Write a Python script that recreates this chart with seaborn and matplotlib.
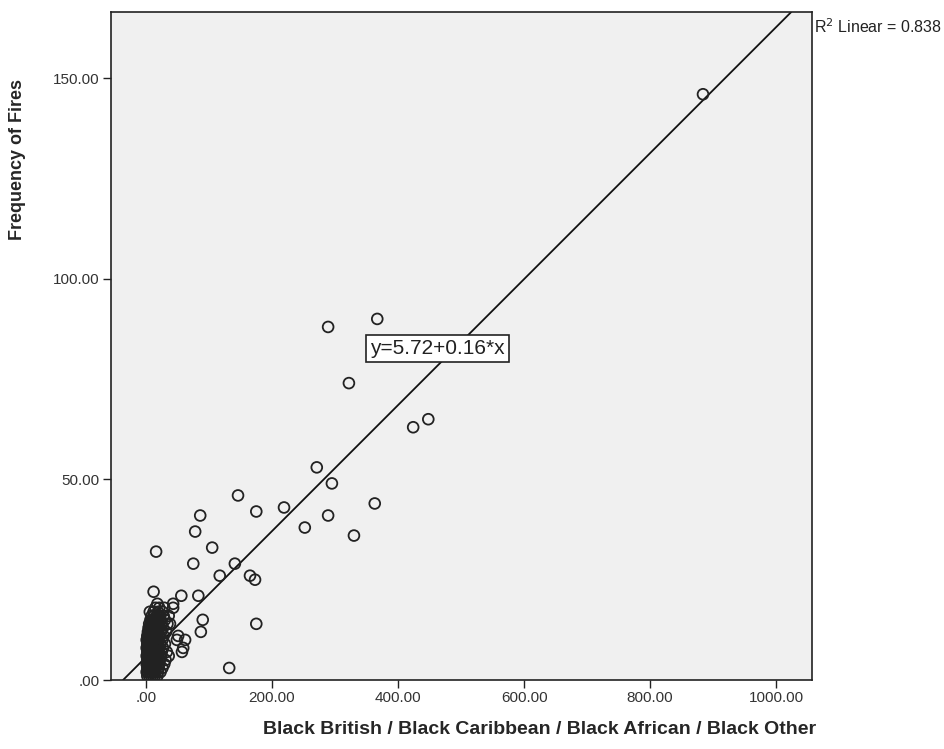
import seaborn as sns
import matplotlib.pyplot as plt
import numpy as np

# outlying wards
outer_x = [884, 367, 289, 322, 448, 424, 271, 295, 146, 175, 219, 363, 86, 78,
           252, 289, 330, 16, 105, 75, 141, 117, 165, 173, 12, 56, 83, 90, 87,
           175, 132, 62, 57, 51, 43, 43, 38, 49, 59]
outer_y = [146, 90, 88, 74, 65, 63, 53, 49, 46, 42, 43, 44, 41, 37,
           38, 41, 36, 32, 33, 29, 29, 26, 26, 25, 22, 21, 21, 15, 12,
           14, 3, 10, 7, 11, 18, 19, 14, 10, 8]

# dense cluster near the origin
cluster_x = [2, 5, 8, 11, 14, 18,
             1, 3, 6, 9, 12, 15, 19, 23,
             2, 4, 7, 10, 13, 16, 20, 26,
             1, 3, 5, 8, 11, 14, 17, 21, 29,
             2, 4, 6, 9, 12, 15, 18, 22, 31,
             1, 3, 5, 7, 10, 13, 16, 19, 24, 36,
             2, 4, 6, 8, 11, 14, 17, 20, 25, 33,
             1, 3, 5, 7, 9, 12, 15, 18, 21, 27,
             2, 4, 6, 8, 10, 13, 16, 19, 23, 30,
             1, 3, 5, 7, 9, 11, 14, 17, 20, 26,
             2, 4, 6, 8, 10, 12, 15, 18, 22, 28,
             3, 5, 7, 9, 11, 13, 16, 19, 24, 32,
             4, 6, 8, 10, 12, 14, 17, 21, 27,
             5, 8, 11, 13, 16, 20, 25, 34,
             7, 10, 14, 18, 23, 30,
             9, 13, 17, 22, 28, 36,
             6, 12, 19, 26,
             15, 21, 29,
             18]
cluster_y = [1] * 6 + [2] * 8 + [3] * 8 + [4] * 9 + [5] * 9 + [6] * 10 + \
            [7] * 10 + [8] * 10 + [9] * 10 + [10] * 10 + [11] * 10 + \
            [12] * 10 + [13] * 9 + [14] * 8 + [15] * 6 + [16] * 6 + \
            [17] * 4 + [18] * 3 + [19] * 1

black_pop = outer_x + cluster_x
fires = outer_y + cluster_y

# fitted line (label shows the rounded coefficients)
fit_a, fit_b = 5.72, 0.157
label_a, label_b = 5.72, 0.16
r2 = 0.838

x_ticks = [0, 200, 400, 600, 800, 1000]
y_ticks = [0, 50, 100, 150]

sns.set_style("ticks")
plt.rcParams['font.family'] = ['Liberation Sans', 'DejaVu Sans']

fig = plt.figure(figsize=(9.45, 7.49), dpi=100)
ax = fig.add_axes([111 / 945, 1 - 680 / 749, 701 / 945, 668 / 749])
ax.set_facecolor('#f0f0f0')

sns.scatterplot(x=black_pop, y=fires, ax=ax, s=60, facecolor='none',
                edgecolor='#222222', linewidth=1.3, zorder=3)
ax.axline((0, fit_a), slope=fit_b, color='#111111', lw=1.3, zorder=2)

ax.set_xlim(-55.6, 1057)
ax.set_ylim(0, 166.5)
ax.set_xticks(x_ticks)
ax.set_yticks(y_ticks)
ax.set_xticklabels(['.00' if v == 0 else f'{v:.2f}' for v in x_ticks])
ax.set_yticklabels(['.00' if v == 0 else f'{v:.2f}' for v in y_ticks])
ax.tick_params(length=6, width=1, colors='#222222', labelcolor='#333333',
               labelsize=11, pad=2)
for sp in ax.spines.values():
    sp.set_visible(True)
    sp.set_color('#222222')
    sp.set_linewidth(1.2)
ax.set_xlabel('')
ax.set_ylabel('')

ax.text(463, 82.7, f'y={label_a:.2f}+{label_b:.2f}*x', ha='center',
        va='center', fontsize=15, color='#222222',
        bbox=dict(boxstyle='square,pad=0.2', fc='white', ec='#222222',
                  lw=1.2))

fig.text(814 / 945, 1 - 27 / 749, f'R$^2$ Linear = {r2:.3f}', ha='left',
         va='center', fontsize=11.5, color='#222222')
fig.text(18 / 945, 1 - 160 / 749, 'Frequency of Fires', rotation=90,
         ha='center', va='center', fontsize=13, fontweight='bold')
fig.text(540 / 945, 1 - 730 / 749,
         'Black British / Black Caribbean / Black African / Black Other',
         ha='center', va='center', fontsize=14, fontweight='bold')

plt.savefig('out.png', dpi=100)
